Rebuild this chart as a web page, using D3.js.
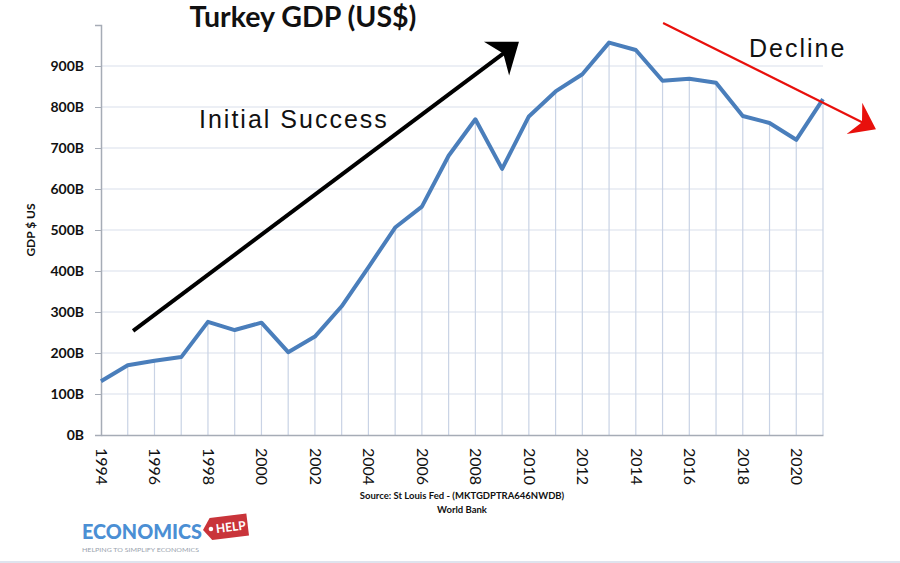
<!DOCTYPE html>
<html>
<head>
<meta charset="utf-8">
<script src="https://cdn.jsdelivr.net/npm/d3@7"></script>
<style>
  html, body { margin: 0; padding: 0; background: #fff; }
  svg { display: block; }
</style>
</head>
<body>
<svg id="chart" width="900" height="563"></svg>
<script>
// ---- Data ----
const years = [1994,1995,1996,1997,1998,1999,2000,2001,2002,2003,2004,2005,2006,2007,2008,2009,2010,2011,2012,2013,2014,2015,2016,2017,2018,2019,2020,2021];
const gdpBillions = [131,170,181,190,276,256,274,202,240,314,409,506,557,681,770,649,777,838,880,957,939,864,869,859,778,761,720,819];
const yTicks = [0,100,200,300,400,500,600,700,800,900];
const xLabelYears = [1994,1996,1998,2000,2002,2004,2006,2008,2010,2012,2014,2016,2018,2020];
const titleText = "Turkey GDP (US$)";
const yAxisTitle = "GDP $ US";
const sourceLines = ["Source: St Louis Fed - (MKTGDPTRA646NWDB)", "World Bank"];
// annotation arrows in data space [year, value]
const successArrow = [[1995.2, 254], [2009.63, 959]];
const declineArrow = [[2015.02, 1005], [2022.98, 746]];

// ---- Layout ----
const svg = d3.select("#chart");
const plotLeft = 101, plotRight = 823, plotTop = 25, plotBottom = 435;

const x = d3.scaleLinear().domain([1994, 2021]).range([plotLeft, plotRight]);
const y = d3.scaleLinear().domain([0, 1000]).range([plotBottom, plotTop]);

// horizontal gridlines
svg.append("g").selectAll("line").data(yTicks.filter(d => d > 0)).join("line")
  .attr("x1", plotLeft).attr("x2", plotRight)
  .attr("y1", d => y(d)).attr("y2", d => y(d))
  .attr("stroke", "#d9dfec").attr("stroke-width", 1.2);

// drop lines
svg.append("g").selectAll("line").data(years.map((yr, i) => [yr, gdpBillions[i]]).slice(1)).join("line")
  .attr("x1", d => x(d[0])).attr("x2", d => x(d[0]))
  .attr("y1", d => y(d[1])).attr("y2", plotBottom)
  .attr("stroke", "#c9d3e5").attr("stroke-width", 1.2);

// y axis
const yAxis = d3.axisLeft(y).tickValues(yTicks).tickSize(6).tickFormat(d => d + "B");
const gy = svg.append("g").attr("transform", `translate(${plotLeft},0)`).call(yAxis);
gy.select(".domain").attr("stroke", "#a6acb6").attr("stroke-width", 1.5);
gy.selectAll(".tick line").attr("stroke", "#a6acb6");
gy.selectAll(".tick text")
  .attr("x", -17)
  .attr("font-family", "Lato, sans-serif").attr("font-weight", "bold")
  .attr("font-size", 14).attr("fill", "#111");

// x axis
const xAxis = d3.axisBottom(x).tickValues(xLabelYears).tickSize(0).tickFormat(d3.format("d"));
const gx = svg.append("g").attr("transform", `translate(0,${plotBottom})`).call(xAxis);
gx.select(".domain").attr("stroke", "#a6acb6").attr("stroke-width", 1.5);
gx.selectAll(".tick text")
  .attr("transform", "rotate(90)")
  .attr("x", 13).attr("y", 0).attr("dy", "0.35em")
  .attr("text-anchor", "start")
  .attr("font-family", "Lato, sans-serif").attr("font-size", 16).attr("fill", "#111");

// line
const line = d3.line().x((d, i) => x(years[i])).y(d => y(d));
svg.append("path").datum(gdpBillions)
  .attr("d", line).attr("fill", "none")
  .attr("stroke", "#4a7ebb").attr("stroke-width", 4).attr("stroke-linejoin", "round");

// arrows
function arrow(pts, color, width, headLen, headHalf, notch) {
  const p0 = [x(pts[0][0]), y(pts[0][1])];
  const p1 = [x(pts[1][0]), y(pts[1][1])];
  const dx = p1[0] - p0[0], dy = p1[1] - p0[1];
  const L = Math.hypot(dx, dy), ux = dx / L, uy = dy / L, nx = -uy, ny = ux;
  const bx = p1[0] - ux * headLen, by = p1[1] - uy * headLen;
  svg.append("line")
    .attr("x1", p0[0]).attr("y1", p0[1])
    .attr("x2", p1[0] - ux * headLen * 0.6).attr("y2", p1[1] - uy * headLen * 0.6)
    .attr("stroke", color).attr("stroke-width", width);
  const pts2 = [
    p1,
    [bx + nx * headHalf, by + ny * headHalf],
    [p1[0] - ux * headLen * (1 - notch), p1[1] - uy * headLen * (1 - notch)],
    [bx - nx * headHalf, by - ny * headHalf]
  ];
  svg.append("polygon").attr("points", pts2.map(p => p.join(",")).join(" ")).attr("fill", color);
}
arrow(successArrow, "#000", 4, 28, 21, 0.3);
arrow(declineArrow, "#e8100c", 2.2, 24, 17.5, 0.35);

// texts
svg.append("text").text(titleText)
  .attr("x", 303).attr("y", 27).attr("text-anchor", "middle")
  .attr("font-family", "Lato, sans-serif").attr("font-weight", "bold")
  .attr("font-size", 28.5).attr("fill", "#111");

svg.append("text").text("Initial Success")
  .attr("x", 199).attr("y", 128)
  .attr("font-family", "'Liberation Sans', Arial, sans-serif")
  .attr("font-size", 25).attr("letter-spacing", 2).attr("fill", "#111");

svg.append("text").text("Decline")
  .attr("x", 749).attr("y", 57)
  .attr("font-family", "'Liberation Sans', Arial, sans-serif")
  .attr("font-size", 25).attr("letter-spacing", 2).attr("fill", "#111");

svg.append("text").text(yAxisTitle)
  .attr("transform", "translate(35,230) rotate(-90)")
  .attr("text-anchor", "middle")
  .attr("font-family", "Lato, sans-serif").attr("font-weight", "bold")
  .attr("font-size", 12).attr("fill", "#111");

svg.append("g").selectAll("text").data(sourceLines).join("text")
  .text(d => d)
  .attr("x", 462).attr("y", (d, i) => 499 + i * 14)
  .attr("text-anchor", "middle")
  .attr("font-family", "Lato, sans-serif").attr("font-weight", "bold")
  .attr("font-size", 9.5).attr("fill", "#111");

// logo
const logo = svg.append("g");
logo.append("text").text("ECONOMICS")
  .attr("x", 82).attr("y", 539)
  .attr("font-family", "Lato, sans-serif").attr("font-weight", 900)
  .attr("font-size", 21).attr("textLength", 120).attr("lengthAdjust", "spacingAndGlyphs")
  .attr("fill", "#4b8fd4");
const tag = logo.append("g").attr("transform", "translate(203,530) rotate(-7)");
tag.append("polygon").attr("points", "0,0 8,-11 45,-11 45,11 8,11").attr("fill", "#c9343a");
tag.append("circle").attr("cx", 8).attr("cy", 0).attr("r", 2.3).attr("fill", "#fff");
tag.append("text").text("HELP").attr("x", 13).attr("y", 4.5)
  .attr("font-family", "Lato, sans-serif").attr("font-weight", "bold")
  .attr("font-size", 12).attr("fill", "#fff");
logo.append("text").text("HELPING TO SIMPLIFY ECONOMICS")
  .attr("x", 82).attr("y", 552)
  .attr("font-family", "Lato, sans-serif").attr("font-size", 6.5)
  .attr("textLength", 117).attr("lengthAdjust", "spacingAndGlyphs")
  .attr("fill", "#9aa3ae");

svg.append("line").attr("x1", 0).attr("x2", 900).attr("y1", 562).attr("y2", 562)
  .attr("stroke", "#dfe4ee").attr("stroke-width", 2);
</script>
</body>
</html>
